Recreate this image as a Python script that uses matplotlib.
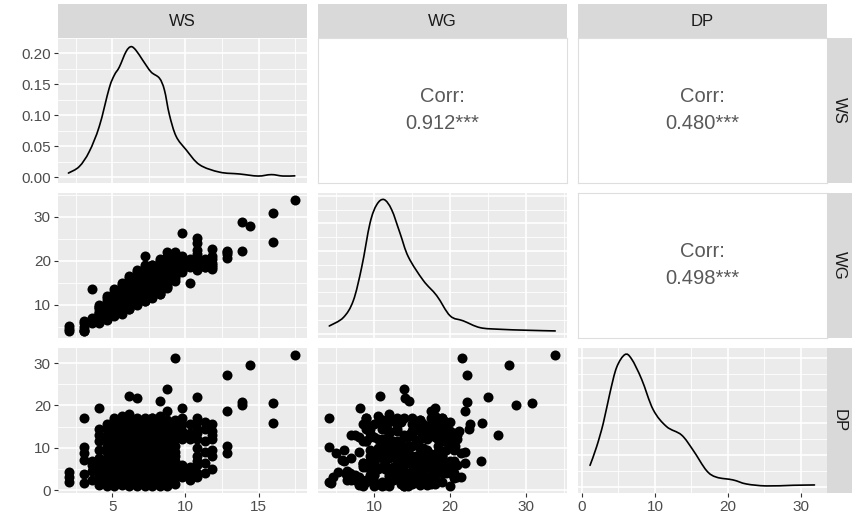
import numpy as np
import matplotlib.pyplot as plt
from matplotlib.path import Path
from matplotlib.patches import PathPatch

plt.rcParams['font.family'] = ['Liberation Sans', 'DejaVu Sans']

variables = ['WS', 'WG', 'DP']

# observations, grouped by wind speed level (knots -> m/s)
ws_levels = [2.06, 3.09, 3.60, 4.12, 4.63, 5.14, 5.66, 6.17, 6.69, 7.20, 7.72,
             8.23, 8.75, 9.26, 9.77, 10.29, 10.80, 11.32, 11.83, 12.86, 13.89,
             14.40, 15.95, 17.50]
wg_groups = [
    [4.1, 5.3, 4.6],
    [4.1, 4.1, 5.0, 5.8, 6.3, 4.3],
    [13.5, 6.5, 7.0, 6.0],
    [8.2, 7.5, 9.0, 7.0, 8.5, 6.8, 9.5, 8.0, 6.0, 10.0, 7.5, 9.5],
    [9.0, 10.5, 8.0, 11.0, 9.5, 7.5, 10.0, 8.5, 7.0, 11.5, 8.5, 12.0, 9.0, 6.5],
    [10.0, 12.0, 9.0, 11.5, 10.5, 8.5, 12.5, 9.5, 11.0, 10.0, 13.0, 8.0, 11.0, 9.5, 13.5, 7.5, 12.0,
     9.0, 12.5, 8.5, 9.0, 11.5],
    [11.0, 13.0, 10.0, 12.5, 9.5, 11.5, 14.0, 10.5, 12.0, 9.0, 11.5, 8.5, 14.5, 12.0, 10.0, 13.5, 8.0, 15.0,
     10.5, 13.0, 9.5, 8.5, 12.5, 10.0],
    [10.8, 12.0, 13.5, 11.0, 14.0, 12.5, 10.5, 13.0, 15.0, 11.5, 13.5, 10.0, 12.5, 14.5, 11.0,
     9.0, 16.0, 11.5, 14.5, 9.5, 16.5, 12.0, 9.0, 15.5, 13.0, 9.5, 10.0, 14.0, 12.0],
    [14.1, 13.0, 15.0, 12.0, 14.5, 11.5, 16.0, 13.5, 12.0, 14.5, 16.5, 12.5, 15.0, 13.5, 12.0,
     10.5, 17.0, 13.0, 10.0, 17.5, 11.0, 14.0, 18.0, 10.5, 16.5, 11.0, 13.0, 15.5, 11.5],
    [21.2, 15.0, 13.0, 16.0, 14.0, 12.5, 17.0, 15.0, 13.0, 16.5, 14.0, 12.0, 15.5, 14.0,
     11.0, 18.0, 12.0, 18.5, 11.5, 17.5, 13.5, 19.0, 11.0, 16.0, 12.5, 15.0, 17.0, 13.5],
    [14.0, 16.5, 15.0, 18.0, 13.5, 16.0, 14.5, 17.5, 15.5, 13.0, 16.5, 14.5, 17.0,
     12.0, 19.0, 12.5, 18.5, 11.5, 19.0, 14.0, 12.5, 18.0, 17.5, 16.0, 17.5, 13.5, 18.5],
    [14.6, 16.0, 17.5, 15.0, 19.0, 16.5, 14.0, 18.0, 16.0, 20.0, 15.0, 17.0, 19.0, 16.0,
     13.0, 18.5, 12.5, 20.5, 13.5, 18.0, 14.5, 12.5, 18.0, 17.0, 19.5, 15.5, 17.5],
    [13.9, 17.5, 16.0, 18.5, 17.0, 19.5, 16.0, 18.0, 20.0, 17.0, 19.0, 16.5, 18.0, 22.0,
     15.0, 20.5, 14.5, 21.0, 15.5, 20.0, 14.0, 18.5, 16.5, 19.5],
    [21.6, 18.0, 19.5, 17.0, 20.0, 18.5, 17.0, 19.5, 18.0, 20.5, 17.5,
     16.0, 21.0, 15.5, 19.0, 22.0, 16.5],
    [26.3, 18.0, 19.0, 17.5, 20.0, 18.5, 19.5, 18.0, 21.0],
    [19.0, 20.5, 18.5, 19.5, 15.0, 20.0],
    [25.1, 24.1, 22.5, 19.0, 20.0, 18.5, 19.5, 20.5, 19.0, 18.0, 19.5, 21.5],
    [19.5, 18.5, 20.0, 19.0, 18.5, 20.5],
    [22.7, 18.2, 19.5, 20.5, 19.0, 18.5, 21.0],
    [22.2, 22.0, 20.7, 21.5],
    [28.7, 22.2],
    [27.8],
    [30.9, 24.3],
    [33.9],
]
dp_groups = [
    [2.0, 4.4, 3.2],
    [17.0, 10.1, 8.8, 7.2, 3.8, 1.7],
    [6.0, 4.5, 2.5, 7.0],
    [19.4, 13.0, 11.5, 7.5, 5.5, 4.0, 2.5, 1.2, 9.5, 6.5, 3.0, 14.5],
    [14.5, 12.0, 9.0, 7.5, 5.5, 3.5, 2.0, 1.0, 13.0, 10.5, 6.5, 4.5, 15.5, 2.5],
    [15.5, 13.5, 11.5, 10.0, 8.0, 6.5, 5.0, 3.5, 2.0, 1.0, 14.5, 12.5, 9.0, 7.0, 4.0, 2.5, 16.5,
     17.0, 11.0, 11.5, 5.5, 15.0],
    [16.5, 14.0, 12.5, 11.0, 9.5, 8.0, 6.5, 5.0, 3.5, 2.5, 1.2, 15.5, 13.0, 10.0, 7.0, 4.5, 3.0, 1.5,
     17.5, 9.0, 13.5, 6.0, 5.5, 3.5],
    [22.2, 18.0, 16.0, 14.5, 13.0, 11.5, 10.0, 8.5, 7.0, 6.0, 4.5, 3.5, 2.5, 1.5, 1.0,
     17.0, 15.0, 12.0, 10.5, 8.0, 5.5, 5.0, 2.0, 3.0, 9.5, 12.5, 6.5, 8.0, 13.5],
    [21.8, 17.0, 15.5, 14.0, 12.5, 11.0, 10.0, 9.0, 7.5, 6.5, 5.0, 4.0, 3.0, 2.0, 1.0,
     16.0, 13.5, 11.5, 8.0, 7.0, 5.5, 3.5, 2.5, 1.5, 8.5, 9.5, 6.0, 11.5, 14.5],
    [14.0, 17.0, 15.5, 14.0, 12.5, 11.0, 9.5, 8.0, 7.0, 6.0, 4.5, 3.0, 2.0, 1.0,
     16.5, 13.0, 10.0, 8.5, 5.0, 3.5, 1.5, 6.5, 12.0, 16.0, 8.0, 10.5, 14.5, 5.5],
    [17.0, 15.5, 14.0, 12.5, 11.0, 10.0, 8.5, 7.0, 5.5, 4.5, 3.5, 2.0, 1.2,
     16.0, 13.5, 9.5, 9.0, 6.0, 4.5, 1.0, 2.5, 15.0, 17.0, 12.0, 8.5, 3.0, 14.5],
    [21.0, 16.0, 14.5, 13.0, 11.5, 10.0, 9.0, 8.0, 6.5, 5.5, 4.5, 3.0, 2.0, 1.3,
     15.5, 12.5, 10.5, 7.0, 6.0, 3.5, 1.0, 3.0, 17.5, 12.0, 9.5, 7.5, 5.0],
    [23.9, 18.8, 16.5, 15.0, 13.0, 11.5, 10.0, 8.5, 7.0, 5.5, 4.0, 2.5, 1.5, 9.0,
     14.0, 12.0, 9.0, 6.0, 4.5, 1.0, 2.0, 10.5, 7.5, 13.5],
    [31.2, 15.5, 14.0, 12.5, 10.5, 9.0, 7.0, 5.5, 4.0, 2.8, 1.5,
     16.5, 12.0, 8.0, 13.0, 6.5, 3.0],
    [13.0, 19.4, 17.0, 15.5, 14.0, 12.0, 6.0, 4.5, 3.0],
    [15.5, 13.5, 12.0, 5.5, 2.3, 4.0],
    [21.9, 6.8, 14.5, 17.0, 16.0, 13.5, 12.0, 10.0, 8.0, 6.0, 4.0, 3.0],
    [16.0, 14.5, 11.5, 9.0, 6.5, 4.0],
    [15.5, 14.0, 12.0, 9.5, 8.0, 5.0, 13.0],
    [27.2, 18.8, 10.5, 8.7],
    [20.1, 20.8],
    [29.6],
    [20.6, 15.9],
    [32.0],
]

# density curves
ws_dens_x = [2.0, 2.74, 3.42, 4.11, 4.79, 5.14, 5.48, 5.94, 6.28, 6.62, 7.08, 7.65,
             8.22, 8.56, 8.9, 9.36, 10.05, 10.96, 12.33, 13.7, 14.95, 15.87, 16.66, 17.47]
ws_dens_y = [0.0065, 0.017, 0.041, 0.082, 0.144, 0.165, 0.178, 0.203, 0.211, 0.205,
             0.189, 0.170, 0.160, 0.141, 0.101, 0.066, 0.044, 0.020, 0.008, 0.005,
             0.0017, 0.004, 0.0017, 0.002]
wg_dens_x = [4.1, 5.95, 7.27, 8.38, 9.47, 10.36, 11.32, 12.33, 13.43, 14.53, 16.5,
             18.27, 20.03, 21.78, 23.98, 26.6, 30.1, 33.9]
wg_dens_y = [0.0056, 0.0117, 0.024, 0.0484, 0.0802, 0.0936, 0.0973, 0.0899, 0.0729,
             0.0557, 0.0386, 0.0276, 0.0130, 0.0093, 0.0044, 0.0032, 0.0025, 0.0020]
dp_dens_x = [1.1, 2.0, 2.92, 3.84, 4.75, 5.89, 6.8, 8.18, 9.77, 11.6, 13.66, 15.25,
             17.08, 18.45, 20.73, 22.56, 25.3, 28.95, 31.9]
dp_dens_y = [0.0136, 0.025, 0.0396, 0.0584, 0.074, 0.0819, 0.0792, 0.0667, 0.0479,
             0.0375, 0.0323, 0.0229, 0.0104, 0.0063, 0.0046, 0.0021, 0.0009, 0.0013, 0.0015]

corr_labels = {(0, 1): '0.912***', (0, 2): '0.480***', (1, 2): '0.498***'}

major_breaks = {'WS': [5, 10, 15], 'WG': [10, 20, 30], 'DP': [0, 10, 20, 30]}
minor_breaks = {'WS': [2.5, 7.5, 12.5, 17.5], 'WG': [5, 15, 25, 35], 'DP': [5, 15, 25]}
dens_major = [np.arange(0, 0.21, 0.05), np.arange(0, 0.11, 0.02), np.arange(0, 0.09, 0.02)]
dens_minor = [np.arange(0.025, 0.23, 0.05), np.arange(0.01, 0.11, 0.02), np.arange(0.01, 0.09, 0.02)]

# flatten groups
lens = [len(g) for g in wg_groups]
data = {
    'WS': np.repeat(ws_levels, lens),
    'WG': np.concatenate([np.array(g) for g in wg_groups]),
    'DP': np.concatenate([np.array(g) for g in dp_groups]),
}
dens = [(ws_dens_x, ws_dens_y), (wg_dens_x, wg_dens_y), (dp_dens_x, dp_dens_y)]


def expand(vals, mult=0.05):
    lo, hi = np.min(vals), np.max(vals)
    pad = (hi - lo) * mult
    return lo - pad, hi + pad


def smooth_path(x, y):
    # catmull-rom through the read points, drawn as bezier segments
    pts = np.column_stack([x, y])
    verts = [pts[0]]
    codes = [Path.MOVETO]
    n = len(pts)
    for k in range(n - 1):
        p0 = pts[max(k - 1, 0)]
        p1, p2 = pts[k], pts[k + 1]
        p3 = pts[min(k + 2, n - 1)]
        verts += [p1 + (p2 - p0) / 6, p2 - (p3 - p1) / 6, p2]
        codes += [Path.CURVE4] * 3
    return Path(verts, codes)


lims = {v: expand(data[v]) for v in variables}

W, H = 852, 525
fig = plt.figure(figsize=(W / 100, H / 100), dpi=100)
col_x = [58, 318, 578]
col_w = 248.5
row_y = [38, 193, 348]
row_h = 144.5

bg = '#EBEBEB'
strip_bg = '#D9D9D9'


def add_ax(left, top, w, h):
    return fig.add_axes([left / W, 1 - (top + h) / H, w / W, h / H])


def style_grid(ax):
    ax.set_facecolor(bg)
    for s in ax.spines.values():
        s.set_visible(False)
    ax.grid(True, which='major', color='white', lw=1.2)
    ax.grid(True, which='minor', color='white', lw=0.6)
    ax.set_axisbelow(True)


for i in range(3):
    for j in range(3):
        ax = add_ax(col_x[j], row_y[i], col_w, row_h)
        xv, yv = variables[j], variables[i]
        if i < j:
            ax.set_facecolor('white')
            for s in ax.spines.values():
                s.set_color('#DEDEDE')
                s.set_linewidth(0.8)
            ax.set_xticks([])
            ax.set_yticks([])
            ax.text(0.5, 0.5, 'Corr:\n' + corr_labels[(i, j)], transform=ax.transAxes,
                    ha='center', va='center', fontsize=14.5, color='#595959',
                    linespacing=1.55)
            continue
        style_grid(ax)
        ax.set_xlim(lims[xv])
        ax.set_xticks(major_breaks[xv])
        ax.set_xticks(minor_breaks[xv], minor=True)
        if i == j:
            dx, dy = dens[i]
            ax.add_patch(PathPatch(smooth_path(dx, dy), fill=False, edgecolor='black',
                                   lw=1.2, capstyle='round'))
            ax.set_ylim(expand(dy))
            ax.set_yticks(dens_major[i])
            ax.set_yticks(dens_minor[i], minor=True)
        else:
            ax.scatter(data[xv], data[yv], s=52, color='black', linewidths=0)
            ax.set_ylim(lims[yv])
            ax.set_yticks(major_breaks[yv])
            ax.set_yticks(minor_breaks[yv], minor=True)
        ax.tick_params(which='minor', length=0)
        ax.tick_params(which='major', colors='#333333', labelcolor='#4D4D4D',
                       labelsize=11, length=3.2, width=0.8, pad=2)
        if i == 0 and j == 0:
            ax.set_yticklabels(['%.2f' % v for v in dens_major[0]])
        if j != 0:
            ax.tick_params(axis='y', length=0, labelleft=False)
        if i != 2:
            ax.tick_params(axis='x', length=0, labelbottom=False)

# top strips
for j, name in enumerate(variables):
    sax = add_ax(col_x[j], 4, col_w, 34)
    sax.set_facecolor(strip_bg)
    for s in sax.spines.values():
        s.set_visible(False)
    sax.set_xticks([])
    sax.set_yticks([])
    sax.text(0.5, 0.5, name, transform=sax.transAxes, ha='center', va='center',
             fontsize=12, color='#1A1A1A')

# right strips
for i, name in enumerate(variables):
    sax = add_ax(826.5, row_y[i], 26, row_h)
    sax.set_facecolor(strip_bg)
    for s in sax.spines.values():
        s.set_visible(False)
    sax.set_xticks([])
    sax.set_yticks([])
    sax.text(0.5, 0.5, name, transform=sax.transAxes, ha='center', va='center',
             fontsize=12, color='#1A1A1A', rotation=-90)

fig.savefig('out.png', dpi=100)
